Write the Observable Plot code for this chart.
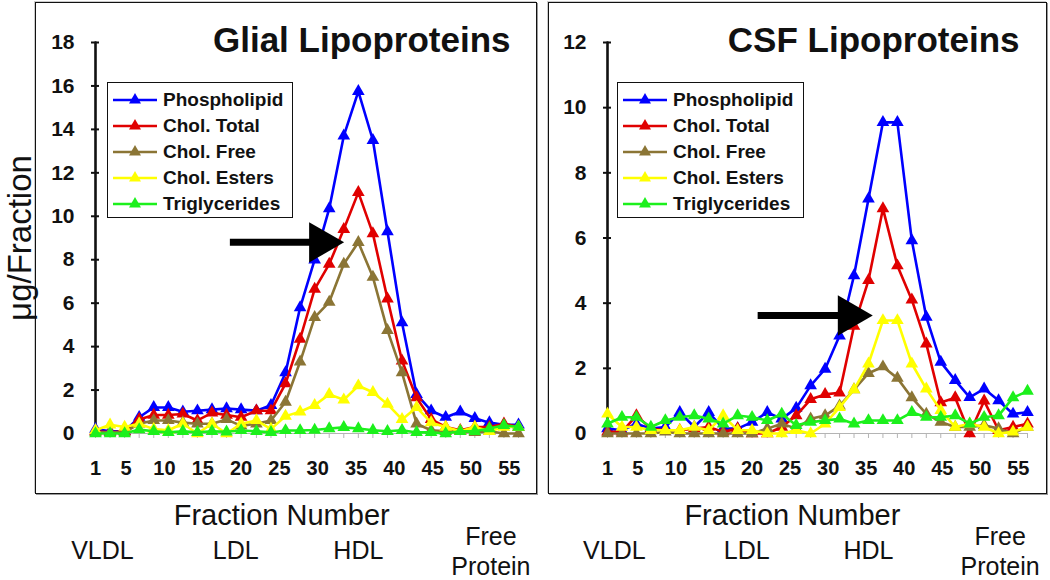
<!DOCTYPE html>
<html><head><meta charset="utf-8">
<script src="https://cdn.jsdelivr.net/npm/d3@7"></script>
<script src="https://cdn.jsdelivr.net/npm/@observablehq/plot@0.6"></script>
<style>
body{margin:0;background:#fff;font-family:"Liberation Sans",Arial,sans-serif;}
#wrap{position:relative;width:1050px;height:580px;overflow:hidden;background:#fff;}
.frame{position:absolute;border:1.6px solid #111;box-shadow:1px 1px 0 #999,-1px -1px 0 #ccc;}
.plot{position:absolute;top:0;}
.legend{position:absolute;background:#fff;border:1.5px solid #111;box-sizing:border-box;padding:4px 0 0 5px;z-index:5;}
.legend .row{display:flex;align-items:center;height:26px;font-weight:bold;font-size:19px;color:#111;white-space:nowrap;}
.legend svg{margin-right:6px;flex:none;}
</style></head><body><div id="wrap"></div>
<script>
// x positions (fraction number) of the 30 measured points
const fractions = [1, 2.9, 4.8, 6.7, 8.6, 10.5, 12.4, 14.3, 16.2, 18.1, 20.0, 22.0, 23.9, 25.8, 27.7, 29.6, 31.5, 33.4, 35.3, 37.2, 39.1, 41.0, 42.9, 44.8, 46.7, 48.6, 50.5, 52.4, 54.3, 56.2];
const xTicks = [1, 5, 10, 15, 20, 25, 30, 35, 40, 45, 50, 55];
const glialYTicks = [0, 2, 4, 6, 8, 10, 12, 14, 16, 18];
const csfYTicks = [0, 2, 4, 6, 8, 10, 12];
const seriesNames = ["Phospholipid", "Chol. Total", "Chol. Free", "Chol. Esters", "Triglycerides"];
const seriesColors = ["#0000ff", "#e00000", "#8b7535", "#ffff00", "#1cf01c"];
const categoryNames = ["VLDL", "LDL", "HDL", "Free\nProtein"];
const categoryFractions = [1.9, 19.3, 35.3, 52.6];

// Glial lipoproteins (µg/fraction)
const glialPhospholipid = [0.2, 0.1, 0.1, 0.75, 1.2, 1.2, 1.0, 1.05, 1.1, 1.15, 1.1, 1.05, 1.3, 2.8, 5.8, 8.0, 10.35, 13.7, 15.75, 13.5, 9.3, 5.1, 1.8, 1.05, 0.75, 1.0, 0.7, 0.5, 0.4, 0.4];
const glialCholTotal = [0.1, 0.05, 0.1, 0.65, 0.85, 0.85, 0.9, 0.6, 0.95, 0.85, 0.75, 1.05, 1.05, 2.3, 4.35, 6.65, 7.8, 9.4, 11.1, 9.2, 6.2, 3.35, 1.65, 0.65, 0.3, 0.15, 0.3, 0.3, 0.45, 0.3];
const glialCholFree = [0.05, 0.05, 0.05, 0.45, 0.6, 0.6, 0.5, 0.45, 0.45, 0.65, 0.35, 0.45, 0.6, 1.45, 3.3, 5.35, 6.05, 7.8, 8.8, 7.2, 4.75, 2.8, 0.45, 0.15, 0.1, 0.1, 0.05, 0.1, 0.0, 0.0];
const glialCholEsters = [0.15, 0.4, 0.3, 0.45, 0.2, 0.15, 0.45, 0.0, 0.45, 0.0, 0.45, 0.6, 0.2, 0.8, 1.0, 1.3, 1.8, 1.55, 2.2, 1.9, 1.35, 0.65, 1.2, 0.5, 0.3, 0.1, 0.3, 0.1, 0.3, 0.3];
const glialTriglycerides = [0.0, 0.0, 0.0, 0.18, 0.1, 0.05, 0.1, 0.05, 0.1, 0.08, 0.14, 0.1, 0.05, 0.14, 0.14, 0.16, 0.23, 0.28, 0.23, 0.15, 0.1, 0.15, 0.05, 0.05, 0.0, 0.1, 0.1, 0.23, 0.38, 0.3];

// CSF lipoproteins (µg/fraction)
const csfPhospholipid = [0.15, 0.1, 0.3, 0.15, 0.2, 0.65, 0.2, 0.65, 0.15, 0.15, 0.35, 0.65, 0.45, 0.78, 1.47, 1.98, 3.0, 4.85, 7.2, 9.55, 9.55, 5.92, 3.57, 2.19, 1.63, 1.11, 1.37, 1.01, 0.6, 0.65];
const csfCholTotal = [0.05, 0.05, 0.55, 0.15, 0.1, 0.1, 0.15, 0.2, 0.05, 0.15, 0.0, 0.0, 0.2, 0.55, 1.05, 1.2, 1.25, 3.3, 4.7, 6.9, 5.15, 4.1, 2.75, 0.95, 1.1, 0.0, 1.0, 0.1, 0.2, 0.3];
const csfCholFree = [0.0, 0.0, 0.0, 0.0, 0.05, 0.0, 0.0, 0.0, 0.0, 0.0, 0.0, 0.15, 0.3, 0.15, 0.45, 0.55, 0.85, 1.35, 1.85, 2.05, 1.7, 1.1, 0.6, 0.35, 0.2, 0.2, 0.25, 0.15, 0.0, 0.2];
const csfCholEsters = [0.6, 0.2, 0.2, 0.1, 0.1, 0.1, 0.2, 0.1, 0.55, 0.1, 0.1, 0.0, 0.0, 0.1, 0.0, 0.3, 0.8, 1.35, 2.14, 3.47, 3.47, 2.14, 1.37, 0.71, 0.2, 0.3, 0.2, 0.0, 0.05, 0.2];
const csfTriglycerides = [0.3, 0.5, 0.5, 0.2, 0.4, 0.5, 0.55, 0.45, 0.3, 0.55, 0.5, 0.4, 0.6, 0.25, 0.35, 0.4, 0.45, 0.3, 0.4, 0.4, 0.4, 0.65, 0.5, 0.5, 0.55, 0.3, 0.5, 0.55, 1.1, 1.3];

// annotation arrows (in data units: fraction, µg)
const glialArrow = {x1: 18.6, x2: 30.0, head: 30.4, y: 8.8};
const csfArrow = {x1: 20.8, x2: 32.5, head: 32.8, y: 3.62};

const wrap = document.getElementById("wrap");

function addFrame(left, top, w, h) {
  const f = document.createElement("div");
  f.className = "frame";
  Object.assign(f.style, {left: left + "px", top: top + "px", width: w + "px", height: h + "px"});
  wrap.appendChild(f);
}

function panel({values, yMax, yTicks, title, arrow, width, marginLeft, marginRight, yLabel}) {
  const rows = [];
  seriesNames.forEach((s, i) => values[i].forEach((v, j) => rows.push({series: s, fraction: fractions[j], value: v})));
  const cats = categoryNames.map((c, i) => ({label: c, x: categoryFractions[i]}));
  const axisLine = [{x: fractions[0], y: 0}, {x: fractions[0], y: yMax}];
  const marks = [
    Plot.ruleY([0], {stroke: "#b4b4b4", strokeWidth: 1}),
    Plot.axisX({ticks: fractions, tickSize: 5, stroke: "#b4b4b4", strokeWidth: 1, tickFormat: () => "", label: null}),
    Plot.axisX({ticks: xTicks, tickSize: 0, tickPadding: 27, fontSize: 20, fontWeight: "bold", fill: "#111", tickFormat: d => String(d), label: null}),
    Plot.line(axisLine, {x: "x", y: "y", stroke: "#111", strokeWidth: 2.6}),
    Plot.axisY({ticks: yTicks, tickSize: 8, dx: 4, stroke: "#111", strokeWidth: 2, tickFormat: () => "", label: null}),
    Plot.axisY({ticks: yTicks, tickSize: 0, tickPadding: 21, fontSize: 21, fontWeight: "bold", fill: "#111", tickFormat: d => String(d), label: null})
  ];
  for (const s of seriesNames) {
    const d = rows.filter(r => r.series === s);
    marks.push(Plot.line(d, {x: "fraction", y: "value", stroke: "series", strokeWidth: 2.6}));
    marks.push(Plot.dot(d, {x: "fraction", y: "value", fill: "series", symbol: "triangle", r: 4.7}));
  }
  marks.push(Plot.ruleY([arrow], {x1: "x1", x2: "x2", y: "y", stroke: "#000", strokeWidth: 7}));
  marks.push(Plot.dot([arrow], {x: "head", y: "y", symbol: "triangle", rotate: 90, r: 15, fill: "#000"}));
  marks.push(Plot.text([title], {frameAnchor: "top-right", dx: -8, dy: -2, fontSize: 35, fontWeight: "bold", textAnchor: "end", lineAnchor: "middle", fill: "#111"}));
  marks.push(Plot.text([{x: 25.3, label: "Fraction Number"}], {x: "x", text: "label", frameAnchor: "bottom", dy: 82, fontSize: 29, lineAnchor: "middle", fill: "#111"}));
  marks.push(Plot.text(cats.filter(c => !c.label.includes("\n")), {x: "x", text: "label", frameAnchor: "bottom", dy: 117, fontSize: 25, lineAnchor: "middle", fill: "#111"}));
  marks.push(Plot.text(cats.filter(c => c.label.includes("\n")), {x: "x", text: "label", frameAnchor: "bottom", dy: 117, fontSize: 25, lineHeight: 1.18, lineAnchor: "middle", fill: "#111"}));
  if (yLabel) marks.push(Plot.text([yLabel], {frameAnchor: "left", dx: -75, rotate: -90, fontSize: 33, textAnchor: "middle", lineAnchor: "middle", fill: "#111"}));
  return Plot.plot({
    width, height: 580, marginLeft, marginRight, marginTop: 42, marginBottom: 147,
    style: {fontFamily: "'Liberation Sans', Arial, sans-serif", background: "transparent", overflow: "visible"},
    x: {domain: [1, 56.2], axis: null},
    y: {domain: [0, yMax], axis: null},
    color: {domain: seriesNames, range: seriesColors},
    marks
  });
}

function legend(left, top, w, h) {
  const L = document.createElement("div");
  L.className = "legend";
  Object.assign(L.style, {left: left + "px", top: top + "px", width: w + "px", height: h + "px"});
  seriesNames.forEach((s, i) => {
    const row = document.createElement("div");
    row.className = "row";
    const c = seriesColors[i];
    row.innerHTML = `<svg width="44" height="20"><line x1="0" x2="44" y1="10" y2="10" stroke="${c}" stroke-width="2.5"/><polygon points="22,3 28,13.5 16,13.5" fill="${c}"/></svg><span>${s}</span>`;
    L.appendChild(row);
  });
  wrap.appendChild(L);
}

addFrame(35, 2, 500, 490);
addFrame(548, 2, 497, 490);

const left = panel({
  values: [glialPhospholipid, glialCholTotal, glialCholFree, glialCholEsters, glialTriglycerides],
  yMax: 18, yTicks: glialYTicks, title: "Glial Lipoproteins", arrow: glialArrow,
  width: 540, marginLeft: 95, marginRight: 22, yLabel: "μg/Fraction"
});
left.classList.add("plot"); left.style.left = "0px";
wrap.appendChild(left);

const right = panel({
  values: [csfPhospholipid, csfCholTotal, csfCholFree, csfCholEsters, csfTriglycerides],
  yMax: 12, yTicks: csfYTicks, title: "CSF Lipoproteins", arrow: csfArrow,
  width: 510, marginLeft: 67, marginRight: 23
});
right.classList.add("plot"); right.style.left = "540px";
wrap.appendChild(right);

legend(107, 82, 186, 136);
legend(617, 82, 187, 136);
</script></body></html>
